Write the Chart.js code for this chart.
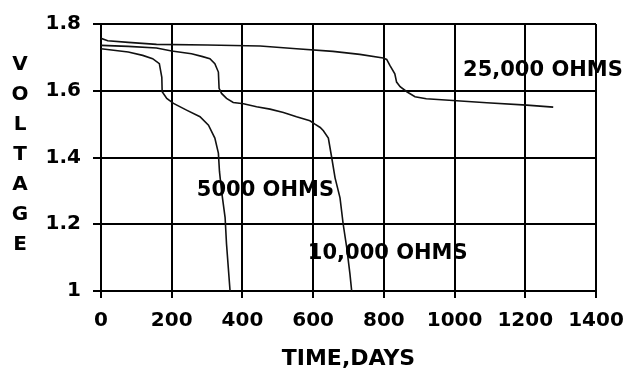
<!DOCTYPE html>
<html><head><meta charset="utf-8">
<script src="https://cdn.jsdelivr.net/npm/chart.js@4/dist/chart.umd.min.js"></script>
<style>html,body{margin:0;padding:0;background:#fff}</style>
</head><body>
<canvas id="c" width="630" height="372"></canvas>
<script>
// ---- data ----
const days25000  = [0, 19, 77, 157, 300, 450, 553, 656, 732, 798, 808, 817, 831, 836, 846, 865, 888, 920, 1006, 1091, 1204, 1279];
const volts25000 = [1.757, 1.750, 1.745, 1.739, 1.737, 1.734, 1.726, 1.718, 1.709, 1.698, 1.694, 1.676, 1.651, 1.626, 1.612, 1.597, 1.582, 1.576, 1.570, 1.564, 1.557, 1.551];

const days10000  = [0, 77, 157, 200, 256, 285, 308, 322, 332, 334, 341, 355, 374, 403, 440, 478, 516, 553, 591, 605, 620, 629, 643, 652, 662, 676, 685, 695, 704, 709];
const volts10000 = [1.736, 1.733, 1.728, 1.719, 1.711, 1.703, 1.696, 1.681, 1.656, 1.607, 1.592, 1.577, 1.565, 1.561, 1.552, 1.545, 1.535, 1.522, 1.510, 1.500, 1.490, 1.480, 1.458, 1.403, 1.339, 1.279, 1.200, 1.130, 1.052, 1.000];

const days5000   = [0, 77, 118, 146, 165, 172, 173, 186, 205, 242, 280, 304, 322, 332, 335, 341, 351, 355, 365];
const volts5000  = [1.726, 1.716, 1.706, 1.696, 1.681, 1.640, 1.597, 1.577, 1.562, 1.542, 1.522, 1.497, 1.458, 1.413, 1.359, 1.299, 1.220, 1.141, 1.000];

const xTickLabels = ['0', '200', '400', '600', '800', '1000', '1200', '1400'];
const yTickLabels = ['1', '1.2', '1.4', '1.6', '1.8'];

const seriesNames  = ['25,000 OHMS', '10,000 OHMS', '5000 OHMS'];
const labelDays    = [1024, 585, 271];
const labelVolts   = [1.662, 1.113, 1.302];

const yTitleLetters = ['V', 'O', 'L', 'T', 'A', 'G', 'E'];
const xTitle = 'TIME,DAYS';

function pts(xs, ys) { return xs.map((x, i) => ({ x: x, y: ys[i] })); }

const FONT = "'DejaVu Sans'";

const textPlugin = {
  id: 'texts',
  afterDraw(chart) {
    const ctx = chart.ctx;
    const xs = chart.scales.x, ys = chart.scales.y;
    ctx.save();
    ctx.fillStyle = '#000';
    ctx.font = "bold 21px " + FONT;
    ctx.textAlign = 'left';
    ctx.textBaseline = 'middle';
    seriesNames.forEach((n, i) => {
      ctx.fillText(n, xs.getPixelForValue(labelDays[i]), ys.getPixelForValue(labelVolts[i]));
    });
    // vertical stacked y title
    ctx.textAlign = 'center';
    ctx.font = "bold 20px " + FONT;
    yTitleLetters.forEach((ch, i) => {
      ctx.fillText(ch, 20, 65 + i * 30);
    });
    // x title
    ctx.font = "bold 22px " + FONT;
    ctx.fillText(xTitle, (chart.chartArea.left + chart.chartArea.right) / 2, 359);
    ctx.restore();
  }
};

const lineStyle = { borderColor: '#111', borderWidth: 1.6, pointRadius: 0, tension: 0, fill: false, showLine: true };

new Chart(document.getElementById('c'), {
  type: 'scatter',
  data: {
    datasets: [
      Object.assign({ label: seriesNames[0], data: pts(days25000, volts25000) }, lineStyle),
      Object.assign({ label: seriesNames[1], data: pts(days10000, volts10000) }, lineStyle),
      Object.assign({ label: seriesNames[2], data: pts(days5000, volts5000) }, lineStyle)
    ]
  },
  options: {
    responsive: false,
    animation: false,
    devicePixelRatio: 1,
    layout: { padding: { left: 0, right: 34, top: 21, bottom: 0 } },
    plugins: { legend: { display: false }, tooltip: { enabled: false } },
    scales: {
      x: {
        type: 'linear', min: 0, max: 1400,
        afterFit(s) { s.height = 81; s.paddingRight = 0; },
        ticks: {
          stepSize: 200, color: '#000', padding: 11,
          font: { family: FONT, weight: 'bold', size: 20 },
          callback: (v) => xTickLabels[Math.round(v / 200)]
        },
        grid: { color: '#000', lineWidth: 2, tickLength: 7, drawTicks: true },
        border: { display: true, color: '#000', width: 2 }
      },
      y: {
        type: 'linear', min: 1, max: 1.8,
        afterFit(s) { s.width = 101; },
        ticks: {
          stepSize: 0.2, color: '#000', padding: 12,
          font: { family: FONT, weight: 'bold', size: 20 },
          callback: (v) => yTickLabels[Math.round((v - 1) / 0.2)]
        },
        grid: { color: '#000', lineWidth: 2, tickLength: 8, drawTicks: true },
        border: { display: true, color: '#000', width: 2 }
      }
    }
  },
  plugins: [textPlugin]
});
</script>
</body></html>
